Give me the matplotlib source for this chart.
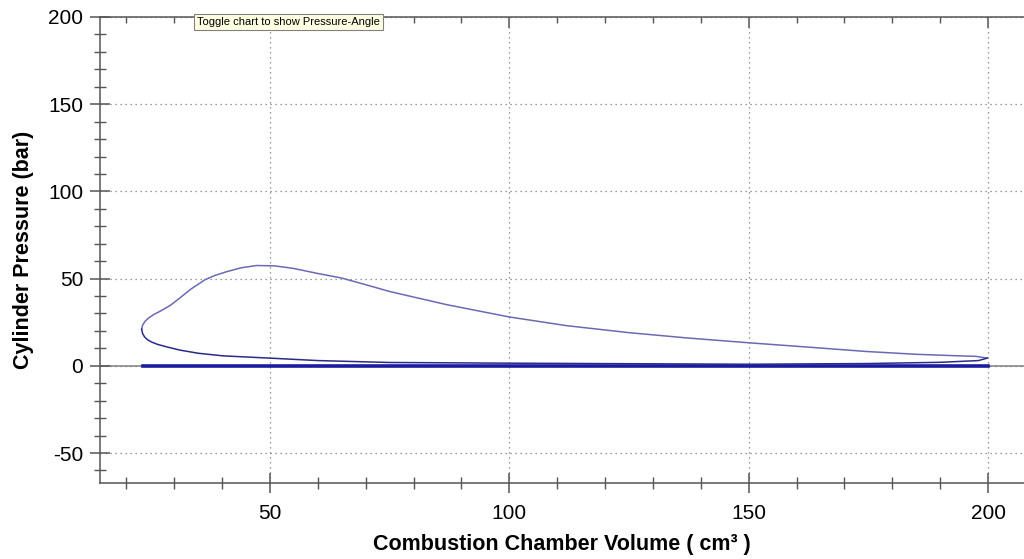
import matplotlib.pyplot as plt
import matplotlib.ticker as mticker
import numpy as np

plt.rcParams['font.family'] = ['Liberation Sans', 'DejaVu Sans']
plt.rcParams['axes.unicode_minus'] = False

# expansion stroke (upper branch), from TDC side towards BDC
vol_exp = [23.2, 23.4, 23.9, 24.6, 25.6, 27.0, 29.1, 31.0, 33.5, 36.4, 38.5, 41.0,
           44.0, 47.2, 51.0, 55.0, 59.7, 65.0, 70.0, 75.0, 87.0, 100.0, 112.0,
           125.0, 137.0, 150.0, 162.0, 174.6, 185.0, 193.0, 197.5, 199.8]
p_exp = [21.0, 23.3, 25.5, 27.3, 29.2, 31.2, 34.5, 38.5, 44.0, 49.3, 51.8, 54.0,
         56.2, 57.5, 57.3, 55.8, 53.1, 50.3, 46.5, 42.6, 35.0, 28.0, 23.0,
         19.0, 16.0, 13.2, 10.8, 8.2, 6.6, 5.8, 5.4, 4.4]

# compression stroke (lower branch), from BDC back to TDC
vol_comp = [199.8, 198.0, 190.0, 175.0, 150.0, 125.0, 100.0, 75.0, 60.0, 50.0,
            40.2, 35.0, 31.2, 28.5, 26.5, 25.3, 24.4, 23.8, 23.4, 23.2]
p_comp = [4.4, 3.0, 2.0, 1.3, 0.9, 1.2, 1.5, 1.9, 3.0, 4.4,
          5.7, 7.2, 9.0, 10.8, 12.3, 13.6, 15.0, 16.6, 18.5, 21.0]

# exhaust / intake strokes, pressure sits near zero
vol_gas = [23.5, 60.0, 100.0, 150.0, 200.0]
p_gas = [0.0, 0.0, 0.0, 0.0, 0.0]

fig = plt.figure(figsize=(10.24, 5.59), dpi=100)
ax = fig.add_axes([100 / 1024, 1 - 483 / 559, 1 - 100 / 1024, (483 - 17) / 559])

ax.axhline(0, color='#8a8a8a', lw=1.2, zorder=1)
ax.plot(vol_gas, p_gas, color='#1c1ca0', lw=2.6, zorder=2)
ax.plot(vol_exp, p_exp, color='#6a6ab4', lw=1.1, zorder=3)
ax.plot(vol_comp, p_comp, color='#2a2a8a', lw=1.1, zorder=3)

ax.set_xlim(14.5, 207.5)
ax.set_ylim(-67.2, 200)

ax.xaxis.set_major_locator(mticker.MultipleLocator(50))
ax.xaxis.set_minor_locator(mticker.MultipleLocator(10))
ax.yaxis.set_major_locator(mticker.MultipleLocator(50))
ax.yaxis.set_minor_locator(mticker.MultipleLocator(10))

ax.grid(True, which='major', linestyle=(0, (1, 3)), color='#7a7a7a', lw=0.9)
ax.spines['right'].set_visible(False)
for s in ['left', 'bottom', 'top']:
    ax.spines[s].set_color('#555555')
    ax.spines[s].set_linewidth(1.1)

ax.tick_params(which='major', direction='inout', length=14, width=1.1, color='#555555',
               labelsize=15, pad=5, top=False, right=False)
ax.tick_params(which='minor', direction='inout', length=8, width=1, color='#555555',
               top=False, right=False)
ax.tick_params(axis='x', which='major', pad=8)

# ticks along the top edge point inward only
top = ax.secondary_xaxis('top')
top.spines['top'].set_visible(False)
top.xaxis.set_major_locator(mticker.MultipleLocator(50))
top.xaxis.set_minor_locator(mticker.MultipleLocator(10))
top.tick_params(which='major', direction='in', length=8, width=1.1, color='#555555',
                labeltop=False)
top.tick_params(which='minor', direction='in', length=4, width=1, color='#555555')

ax.set_xlabel('Combustion Chamber Volume ( cm³ )', fontsize=15.5, fontweight='bold', labelpad=8)
ax.set_ylabel('Cylinder Pressure (bar)', fontsize=15.5, fontweight='bold', labelpad=10)

fig.text(197 / 1024, 1 - 22 / 559, 'Toggle chart to show Pressure-Angle', fontsize=8,
         va='center', ha='left', zorder=5,
         bbox=dict(boxstyle='square,pad=0.25', fc='#ffffe1', ec='#808080', lw=0.8))

fig.savefig('out.png', dpi=100)
